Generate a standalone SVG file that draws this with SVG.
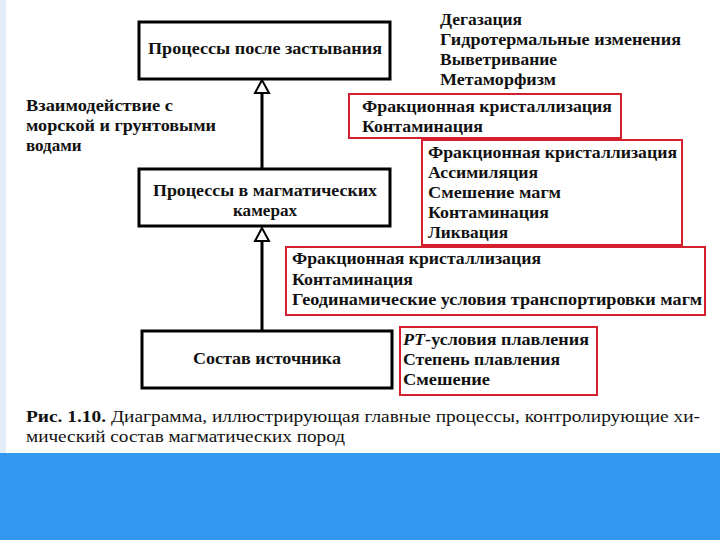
<svg xmlns="http://www.w3.org/2000/svg" width="720" height="540" viewBox="0 0 720 540">
<defs>
<style>
.t{font-family:"Liberation Serif","DejaVu Serif",serif;font-size:17px;font-weight:bold;fill:#111}
.c{font-family:"Liberation Serif","DejaVu Serif",serif;font-size:17px;fill:#111}
.box{fill:#fff;stroke:#000;stroke-width:3}
.red{fill:none;stroke:#d4202e;stroke-width:2}
.ln{stroke:#000;stroke-width:3;fill:none}
</style>
<marker id="tri" viewBox="0 0 16 16" refX="8" refY="1" markerWidth="16" markerHeight="16" markerUnits="userSpaceOnUse" orient="auto-start-reverse">
<path d="M8,1 L1,14 L15,14 Z" fill="#fff" stroke="#000" stroke-width="2" stroke-linejoin="miter"/>
</marker>
</defs>
<rect x="0" y="0" width="720" height="540" fill="#fff"/>
<rect x="0" y="0" width="6" height="453" fill="#e2ecf8"/>
<rect x="0" y="453" width="720" height="87" fill="#3399f0"/>

<g id="connectors">
<line class="ln" x1="262" y1="168" x2="262" y2="94"/>
<path d="M262,80 L255,93 L269,93 Z" fill="#fff" stroke="#000" stroke-width="2"/>
<line class="ln" x1="262" y1="330" x2="262" y2="242"/>
<path d="M262,228 L255,241 L269,241 Z" fill="#fff" stroke="#000" stroke-width="2"/>
</g>

<g id="node-after">
<rect class="box" x="139" y="22" width="251" height="57"/>
<text class="t" x="148" y="54" textLength="234" lengthAdjust="spacingAndGlyphs">Процессы после застывания</text>
</g>
<g id="node-chambers">
<rect class="box" x="139" y="169" width="251" height="57"/>
<text class="t" x="153" y="196" textLength="224" lengthAdjust="spacingAndGlyphs">Процессы в магматических</text>
<text class="t" x="233" y="216" textLength="64" lengthAdjust="spacingAndGlyphs">камерах</text>
</g>
<g id="node-source">
<rect class="box" x="142" y="331" width="250" height="57"/>
<text class="t" x="193" y="364" textLength="148" lengthAdjust="spacingAndGlyphs">Состав источника</text>
</g>

<g id="label-water">
<text class="t" x="26" y="111" textLength="147" lengthAdjust="spacingAndGlyphs">Взаимодействие с</text>
<text class="t" x="26" y="131" textLength="190" lengthAdjust="spacingAndGlyphs">морской и грунтовыми</text>
<text class="t" x="26" y="151">водами</text>
</g>

<g id="list-after">
<text class="t" x="440" y="25" textLength="82" lengthAdjust="spacingAndGlyphs">Дегазация</text>
<text class="t" x="440" y="45" textLength="241" lengthAdjust="spacingAndGlyphs">Гидротермальные изменения</text>
<text class="t" x="440" y="65" textLength="117" lengthAdjust="spacingAndGlyphs">Выветривание</text>
<text class="t" x="440" y="85" textLength="116" lengthAdjust="spacingAndGlyphs">Метаморфизм</text>
</g>

<g id="note-1">
<rect class="red" x="349" y="94" width="272" height="44"/>
<text class="t" x="362" y="112" textLength="250" lengthAdjust="spacingAndGlyphs">Фракционная кристаллизация</text>
<text class="t" x="362" y="132" textLength="121" lengthAdjust="spacingAndGlyphs">Контаминация</text>
</g>
<g id="note-2">
<rect class="red" x="422" y="140" width="260" height="105"/>
<text class="t" x="428" y="158" textLength="249" lengthAdjust="spacingAndGlyphs">Фракционная кристаллизация</text>
<text class="t" x="428" y="178" textLength="110" lengthAdjust="spacingAndGlyphs">Ассимиляция</text>
<text class="t" x="428" y="198" textLength="133" lengthAdjust="spacingAndGlyphs">Смешение магм</text>
<text class="t" x="428" y="218" textLength="121" lengthAdjust="spacingAndGlyphs">Контаминация</text>
<text class="t" x="428" y="238" textLength="80" lengthAdjust="spacingAndGlyphs">Ликвация</text>
</g>
<g id="note-3">
<rect class="red" x="286" y="247" width="419" height="68"/>
<text class="t" x="292" y="264" textLength="249" lengthAdjust="spacingAndGlyphs">Фракционная кристаллизация</text>
<text class="t" x="292" y="285" textLength="121" lengthAdjust="spacingAndGlyphs">Контаминация</text>
<text class="t" x="292" y="305" textLength="410" lengthAdjust="spacingAndGlyphs">Геодинамические условия транспортировки магм</text>
</g>
<g id="note-4">
<rect class="red" x="400" y="327" width="197" height="68"/>
<text class="t" x="403" y="345" textLength="186" lengthAdjust="spacingAndGlyphs"><tspan font-style="italic">PT</tspan>-условия плавления</text>
<text class="t" x="403" y="365" textLength="157" lengthAdjust="spacingAndGlyphs">Степень плавления</text>
<text class="t" x="403" y="385" textLength="87" lengthAdjust="spacingAndGlyphs">Смешение</text>
</g>

<g id="caption">
<text class="c" x="26" y="422" textLength="674" lengthAdjust="spacingAndGlyphs"><tspan font-weight="bold">Рис. 1.10.</tspan> Диаграмма, иллюстрирующая главные процессы, контролирующие хи-</text>
<text class="c" x="26" y="442" textLength="319" lengthAdjust="spacingAndGlyphs">мический состав магматических пород</text>
</g>
</svg>
